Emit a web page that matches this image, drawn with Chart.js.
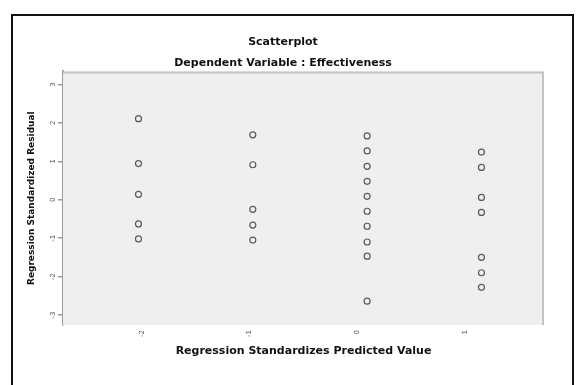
<!DOCTYPE html>
<html>
<head>
<meta charset="utf-8">
<script src="https://cdn.jsdelivr.net/npm/chart.js@4.4.1/dist/chart.umd.min.js"></script>
<style>
  html, body { margin: 0; padding: 0; background: #fff; overflow: hidden; }
  #wrap { position: relative; width: 576px; height: 385px; }
  #frame {
    position: absolute; left: 11px; top: 14px;
    width: 559px; height: 400px;
    border: 2px solid #111; pointer-events: none;
  }
</style>
</head>
<body>
<div id="wrap">
  <canvas id="grafico" width="576" height="385"></canvas>
  <div id="frame"></div>
</div>
<script>
// valores (previsto padronizado x resíduo padronizado)
const groupX = [-2.03, -0.97, 0.09, 1.15];
const residA = [2.11, 0.94, 0.14, -0.63, -1.02];
const residB = [1.69, 0.91, -0.25, -0.66, -1.05];
const residC = [1.66, 1.27, 0.87, 0.48, 0.09, -0.30, -0.69, -1.10, -1.47, -2.64];
const residD = [1.24, 0.84, 0.06, -0.33, -1.50, -1.90, -2.28];
const xTicks = [-2, -1, 0, 1];
const yTicks = [-3, -2, -1, 0, 1, 2, 3];

const grupos = [residA, residB, residC, residD];
const pontos = [];
grupos.forEach(function (g, i) {
    g.forEach(function (r) { pontos.push({ x: groupX[i], y: r }); });
});

// fundo cinza e bordas da área do gráfico
const fundoPlot = {
    id: 'fundoPlot',
    beforeDatasetsDraw(chart) {
        const { ctx, chartArea: a } = chart;
        ctx.save();
        ctx.fillStyle = '#efefef';
        ctx.fillRect(a.left, a.top, a.right - a.left, a.bottom - a.top);
        ctx.strokeStyle = '#c4c4c4';
        ctx.lineWidth = 2;
        ctx.beginPath();
        ctx.moveTo(a.left, a.top + 1);
        ctx.lineTo(a.right - 1, a.top + 1);
        ctx.lineTo(a.right - 1, a.bottom);
        ctx.stroke();
        ctx.restore();
    }
};

const fonte = "'DejaVu Sans', sans-serif";

new Chart(document.getElementById('grafico'), {
    type: 'scatter',
    data: {
        datasets: [{
            data: pontos,
            pointRadius: 3,
            pointHoverRadius: 3,
            borderWidth: 1.2,
            borderColor: '#5a5a5a',
            backgroundColor: 'rgba(0,0,0,0)'
        }]
    },
    plugins: [fundoPlot],
    options: {
        responsive: false,
        animation: false,
        devicePixelRatio: 1,
        layout: { padding: { left: 22, right: 32, top: 0, bottom: 0 } },
        plugins: {
            legend: { display: false },
            tooltip: { enabled: false },
            title: {
                display: true,
                text: 'Scatterplot',
                color: '#111',
                font: { family: fonte, size: 11, weight: 'bold' },
                padding: { top: 36, bottom: 4 }
            },
            subtitle: {
                display: true,
                text: 'Dependent Variable : Effectiveness',
                color: '#111',
                font: { family: fonte, size: 11, weight: 'bold' },
                padding: { top: 3, bottom: 2 }
            }
        },
        scales: {
            x: {
                type: 'linear',
                min: -2.73,
                max: 1.73,
                afterBuildTicks: function (s) { s.ticks = xTicks.map(v => ({ value: v })); },
                afterFit: function (s) { s.height = 60; },
                grid: { display: false, drawTicks: false },
                border: { display: false },
                ticks: {
                    minRotation: 90, maxRotation: 90,
                    padding: 5,
                    color: '#555',
                    font: { family: fonte, size: 7 }
                },
                title: {
                    display: true,
                    text: 'Regression Standardizes Predicted Value',
                    color: '#111',
                    font: { family: fonte, size: 11, weight: 'bold' },
                    padding: { top: 0, bottom: 27 }
                }
            },
            y: {
                min: -3.26,
                max: 3.34,
                afterBuildTicks: function (s) { s.ticks = yTicks.map(v => ({ value: v })); },
                afterFit: function (s) { s.width = 41; },
                grid: { drawOnChartArea: false, drawTicks: true, tickLength: 5, color: '#999', lineWidth: 1.5 },
                border: { display: true, color: '#9a9a9a', width: 2 },
                ticks: {
                    minRotation: 90, maxRotation: 90,
                    crossAlign: 'center',
                    padding: 1,
                    color: '#555',
                    font: { family: fonte, size: 7 }
                },
                title: {
                    display: true,
                    text: 'Regression Standardized Residual',
                    color: '#111',
                    font: { family: fonte, size: 9, weight: 'bold' },
                    padding: { top: 4, bottom: 0 }
                }
            }
        }
    }
});
</script>
</body>
</html>
